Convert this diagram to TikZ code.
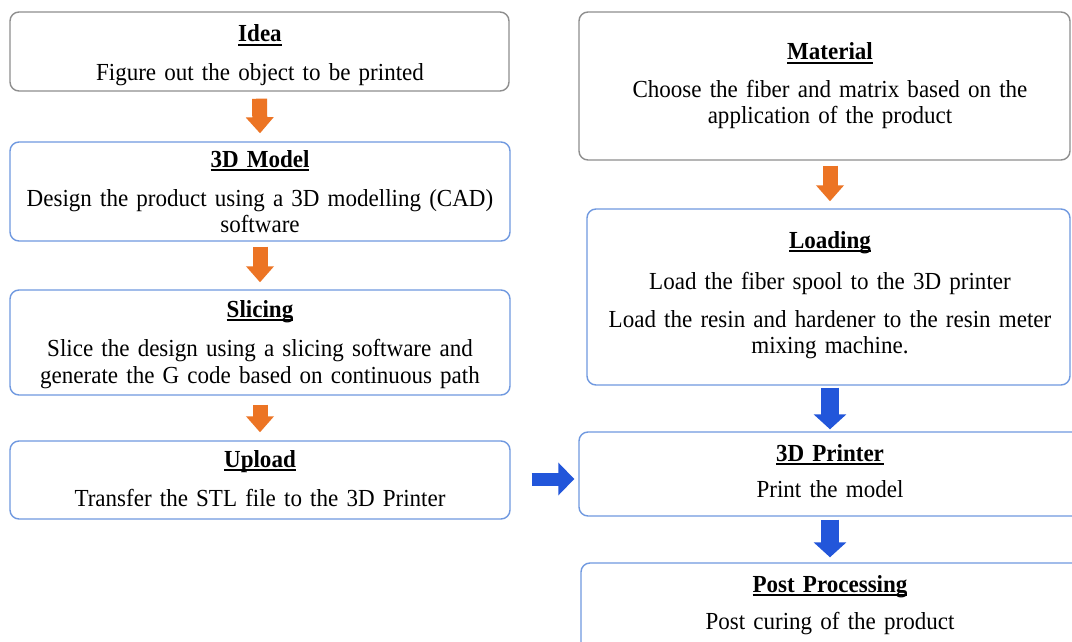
\documentclass[tikz,border=0pt]{standalone}
\usepackage{fontspec}
\setmainfont[WordSpace=0.82,FakeStretch=0.94]{Liberation Serif}
\usetikzlibrary{arrows.meta,calc}
\definecolor{boxblue}{HTML}{7099E0}
\definecolor{boxgray}{HTML}{8E8E8E}
\definecolor{arrorange}{HTML}{EC7424}
\definecolor{arrblue}{HTML}{2256DA}
\newcommand{\tul}[1]{\setbox0\hbox{\textbf{#1}}\rlap{\rule[-3.6pt]{\wd0}{1.6pt}}\box0}
\begin{document}
\begin{tikzpicture}[x=1pt,y=-1pt,
  boxbase/.style={rectangle, rounded corners=9pt, line width=1.4pt, fill=white, inner sep=0pt},
  bluebox/.style={boxbase, draw=boxblue},
  graybox/.style={boxbase, draw=boxgray},
  txt/.style={text width=510pt, align=center, anchor=base, inner sep=0pt,
    font=\fontsize{24.5}{26.5}\selectfont},
  oarr/.style={draw=arrorange, line width=15pt, -{Triangle[width=27pt,length=16pt]}},
  barr/.style={draw=arrblue, line width=18pt, -{Triangle[width=32pt,length=15pt]}},
  harr/.style={draw=arrblue, line width=13pt, -{Triangle[width=32pt,length=16pt]}}]
\useasboundingbox[fill=white] (0,0) rectangle (1072,642);

% left column
\node[graybox, minimum width=499pt, minimum height=79pt] (idea) at (259.5,51.5) {};
\node[txt] (ideat) at (260,42) {\tul{Idea}\\[12pt]Figure out the object to be printed};

\node[bluebox, minimum width=500pt, minimum height=99pt] (model) at (260,191.5) {};
\node[txt] (modelt) at (260,167) {\tul{3D Model}\\[13pt]Design the product using a 3D modelling (CAD)\\software};

\node[bluebox, minimum width=500pt, minimum height=105pt] (slice) at (260,342.5) {};
\node[txt] (slicet) at (260,317) {\tul{Slicing}\\[13pt]Slice the design using a slicing software and\\generate the G code based on continuous path};

\node[bluebox, minimum width=500pt, minimum height=78pt] (upload) at (260,480) {};
\node[txt] (uploadt) at (260,467) {\tul{Upload}\\[13pt]Transfer the STL file to the 3D Printer};

% right column
\node[graybox, minimum width=491pt, minimum height=148pt] (mat) at (824.5,86) {};
\node[txt] (matt) at (830,60) {\tul{Material}\\[11pt]Choose the fiber and matrix based on the\\application of the product};

\node[bluebox, minimum width=483pt, minimum height=176pt] (load) at (828.5,297) {};
\node[txt] (loadt) at (830,248) {\tul{Loading}\\[15pt]Load the fiber spool to the 3D printer\\[11pt]Load the resin and hardener to the resin meter\\mixing machine.};

\node[bluebox, minimum width=512pt, minimum height=84pt] (printer) at (835,474) {};
\node[txt] (printert) at (830,461) {\tul{3D Printer}\\[10pt]Print the model};

\node[bluebox, minimum width=512pt, minimum height=100pt] (post) at (837,613) {};
\node[txt] (postt) at (830,592) {\tul{Post Processing}\\[11pt]Post curing of the product};

% connectors
\draw[oarr] ($(idea.south)+(0,7)$) -- ($(model.north)+(0,-8)$);
\draw[oarr] ($(model.south)+(0,5)$) -- ($(slice.north)+(0,-7)$);
\draw[oarr] ($(slice.south)+(0,9)$) -- ($(upload.north)+(0,-8)$);
\draw[oarr] ($(mat.south -| matt.center)+(0,5)$) -- ($(load.north -| matt.center)+(0,-7)$);
\draw[barr] ($(load.south -| loadt.center)+(0,2)$) -- ($(printer.north -| loadt.center)+(0,-2)$);
\draw[barr] ($(printer.south -| printert.center)+(0,3)$) -- ($(post.north -| printert.center)+(0,-5)$);
\draw[harr] ($(upload.east)+(21,-1)$) -- ($(upload.east -| printer.west)+(-4,-1)$);
\end{tikzpicture}
\end{document}
